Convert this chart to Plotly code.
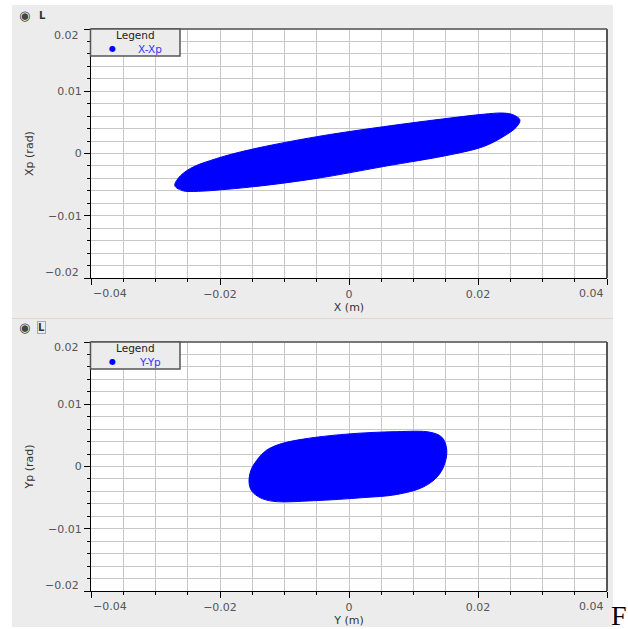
import plotly.graph_objects as go

W, H = 628, 629

# ---- data: outlines of the particle distributions ----
x_top = [-0.0270, -0.0257, -0.0241, -0.0154, -0.0050, 0.0053, 0.0157, 0.0208, 0.0239, 0.0260,
         0.0265, 0.0255, 0.0239, 0.0208, 0.0157, 0.0053, -0.0050, -0.0154, -0.0205, -0.0246, -0.0265]
xp_top = [-0.0052, -0.0060, -0.0061, -0.0054, -0.0040, -0.0021, -0.0002, 0.0011, 0.0027, 0.0043,
          0.0054, 0.0062, 0.0065, 0.0063, 0.0057, 0.0043, 0.0027, 0.0006, -0.0008, -0.0024, -0.0040]

y_bot = [-0.0155, -0.0151, -0.0138, -0.0117, -0.0055, 0.0022, 0.0074, 0.0115, 0.0139, 0.0150,
         0.0151, 0.0144, 0.0126, 0.0074, -0.0004, -0.0071, -0.0107, -0.0128, -0.0143, -0.0152]
yp_bot = [-0.0025, -0.0039, -0.0050, -0.0056, -0.0055, -0.0050, -0.0045, -0.0033, -0.0014, 0.0010,
          0.0031, 0.0047, 0.0055, 0.0056, 0.0052, 0.0044, 0.0036, 0.0026, 0.0010, -0.0006]

x_ticks = [-0.04, -0.02, 0, 0.02, 0.04]
x_labels = ["", "−0.02", "0", "0.02", ""]          # edge labels are drawn pulled inside
y_ticks = [-0.02, -0.01, 0, 0.01, 0.02]
y_labels = ["", "−0.01", "0", "0.01", ""]
x_edge_labels = ["−0.04", "0.04"]
y_edge_labels = ["−0.02", "0.02"]
names = ["X-Xp", "Y-Yp"]
x_titles = ["X (m)", "Y (m)"]
y_titles = ["Xp (rad)", "Yp (rad)"]

BLUE = "#0000ff"
GRAY_BG = "#ececec"
FONT = "DejaVu Sans"
TICKFONT = dict(family=FONT, size=11, color="#555")


def px(x):
    return x / W


def py(y):
    return 1 - y / H


fig = go.Figure()
fig.add_trace(go.Scatter(x=x_top + x_top[:1], y=xp_top + xp_top[:1], mode="lines",
                         fill="toself", fillcolor=BLUE, line=dict(color=BLUE, width=1, shape="spline"),
                         name=names[0], xaxis="x", yaxis="y", showlegend=False, hoverinfo="skip"))
fig.add_trace(go.Scatter(x=y_bot + y_bot[:1], y=yp_bot + yp_bot[:1], mode="lines",
                         fill="toself", fillcolor=BLUE, line=dict(color=BLUE, width=1, shape="spline"),
                         name=names[1], xaxis="x2", yaxis="y2", showlegend=False, hoverinfo="skip"))

# plot area pixel boxes
L, R = 91, 607
boxes = [(29, 278), (342, 591)]

common_x = dict(range=[-0.04, 0.04], tickvals=x_ticks, ticktext=x_labels, ticks="outside", ticklen=6,
                tickcolor="#000", showline=True, linecolor="#000", linewidth=1, zeroline=False,
                automargin=False, showgrid=True, gridcolor="#c8c8c8", gridwidth=1,
                minor=dict(dtick=0.005, tick0=0, ticks="outside", ticklen=3, tickcolor="#000",
                           showgrid=True, gridcolor="#c8c8c8", gridwidth=1),
                tickfont=TICKFONT, domain=[px(L), px(R)])
common_y = dict(range=[-0.02, 0.02], tickvals=y_ticks, ticktext=y_labels, ticks="outside", ticklen=6,
                tickcolor="#000", showline=True, linecolor="#000", linewidth=1, zeroline=False,
                automargin=False, showgrid=True, gridcolor="#c8c8c8", gridwidth=1,
                minor=dict(dtick=0.002, tick0=0, ticks="outside", ticklen=3, tickcolor="#000",
                           showgrid=True, gridcolor="#c8c8c8", gridwidth=1),
                tickfont=TICKFONT)

layout = dict(width=W, height=H, margin=dict(l=0, r=0, t=0, b=0, autoexpand=False),
              paper_bgcolor="#ffffff", plot_bgcolor="#ffffff", showlegend=False)
for i, (t, b) in enumerate(boxes):
    sfx = "" if i == 0 else str(i + 1)
    layout["xaxis" + sfx] = dict(common_x, anchor="y" + sfx,
                                 title=dict(text=x_titles[i], font=dict(family=FONT, size=11, color="#333"),
                                            standoff=2))
    layout["yaxis" + sfx] = dict(common_y, anchor="x" + sfx, domain=[py(b), py(t)],
                                 title=dict(text=y_titles[i], font=dict(family=FONT, size=11, color="#333"),
                                            standoff=12))
fig.update_layout(**layout)

shapes = []
annotations = []
# gray panels
shapes.append(dict(type="rect", xref="paper", yref="paper", x0=px(12), x1=px(613), y0=py(318), y1=py(5),
                   fillcolor=GRAY_BG, line=dict(width=0), layer="below"))
shapes.append(dict(type="rect", xref="paper", yref="paper", x0=px(12), x1=px(613), y0=py(627), y1=py(319),
                   fillcolor=GRAY_BG, line=dict(width=0), layer="below"))
shapes.append(dict(type="line", xref="paper", yref="paper", x0=px(12), x1=px(613), y0=py(318.5), y1=py(318.5),
                   line=dict(color="#e0d8d0", width=1)))

for i, (t, b) in enumerate(boxes):
    # white plot area under grid
    shapes.append(dict(type="rect", xref="paper", yref="paper", x0=px(L), x1=px(R), y0=py(b), y1=py(t),
                       fillcolor="#ffffff", line=dict(width=0), layer="below"))
    # top and right border
    shapes.append(dict(type="line", xref="paper", yref="paper", x0=px(L), x1=px(R), y0=py(t), y1=py(t),
                       line=dict(color="#777", width=2)))
    shapes.append(dict(type="line", xref="paper", yref="paper", x0=px(R), x1=px(R), y0=py(b), y1=py(t),
                       line=dict(color="#555", width=2)))
    # edge tick labels, pulled inside the axis span
    annotations.append(dict(text=x_edge_labels[0], xref="paper", yref="paper", x=px(L + 1), y=py(b + 15),
                            showarrow=False, font=TICKFONT, xanchor="left", yanchor="middle", borderpad=0))
    annotations.append(dict(text=x_edge_labels[1], xref="paper", yref="paper", x=px(R - 2), y=py(b + 15),
                            showarrow=False, font=TICKFONT, xanchor="right", yanchor="middle", borderpad=0))
    annotations.append(dict(text=y_edge_labels[0], xref="paper", yref="paper", x=px(80), y=py(b - 6),
                            showarrow=False, font=TICKFONT, xanchor="right", yanchor="middle", borderpad=0))
    annotations.append(dict(text=y_edge_labels[1], xref="paper", yref="paper", x=px(80), y=py(t + 6),
                            showarrow=False, font=TICKFONT, xanchor="right", yanchor="middle", borderpad=0))
    # legend box
    shapes.append(dict(type="rect", xref="paper", yref="paper", x0=px(90.5), x1=px(180), y0=py(t + 27), y1=py(t),
                       fillcolor=GRAY_BG, line=dict(color="#555", width=1.5)))
    annotations.append(dict(text="Legend", xref="paper", yref="paper", x=px(135), y=py(t + 6), showarrow=False,
                            font=dict(family=FONT, size=10.5, color="#222"), xanchor="center", yanchor="middle",
                            borderpad=0))
    annotations.append(dict(text="●", xref="paper", yref="paper", x=px(113), y=py(t + 19.5), showarrow=False,
                            font=dict(family=FONT, size=8, color=BLUE), xanchor="center", yanchor="middle",
                            borderpad=0))
    annotations.append(dict(text=names[i], xref="paper", yref="paper", x=px(150), y=py(t + 19.5), showarrow=False,
                            font=dict(family=FONT, size=10.5, color="#3333ff"), xanchor="center", yanchor="middle",
                            borderpad=0))

# radio-button headers
annotations.append(dict(text="◉", xref="paper", yref="paper", x=px(24), y=py(15), showarrow=False,
                        font=dict(family=FONT, size=13, color="#444"), xanchor="center", yanchor="middle"))
annotations.append(dict(text="<b>L</b>", xref="paper", yref="paper", x=px(37), y=py(15), showarrow=False,
                        font=dict(family=FONT, size=10, color="#333"), xanchor="left", yanchor="middle"))
annotations.append(dict(text="◉", xref="paper", yref="paper", x=px(24), y=py(327), showarrow=False,
                        font=dict(family=FONT, size=13, color="#444"), xanchor="center", yanchor="middle"))
annotations.append(dict(text="<b>L</b>", xref="paper", yref="paper", x=px(37), y=py(327), showarrow=False,
                        font=dict(family=FONT, size=10, color="#333"), xanchor="left", yanchor="middle",
                        bordercolor="#9ab", borderwidth=1, borderpad=0))
# stray text from surrounding document
annotations.append(dict(text="F", xref="paper", yref="paper", x=px(610), y=py(632), showarrow=False,
                        font=dict(family="Liberation Serif", size=28, color="#000"), xanchor="left",
                        yanchor="bottom", borderpad=0))

fig.update_layout(shapes=shapes, annotations=annotations)
fig.write_html("out.html", config={"displayModeBar": False},
               post_script="document.body.style.margin='0';document.body.style.overflow='hidden';")
